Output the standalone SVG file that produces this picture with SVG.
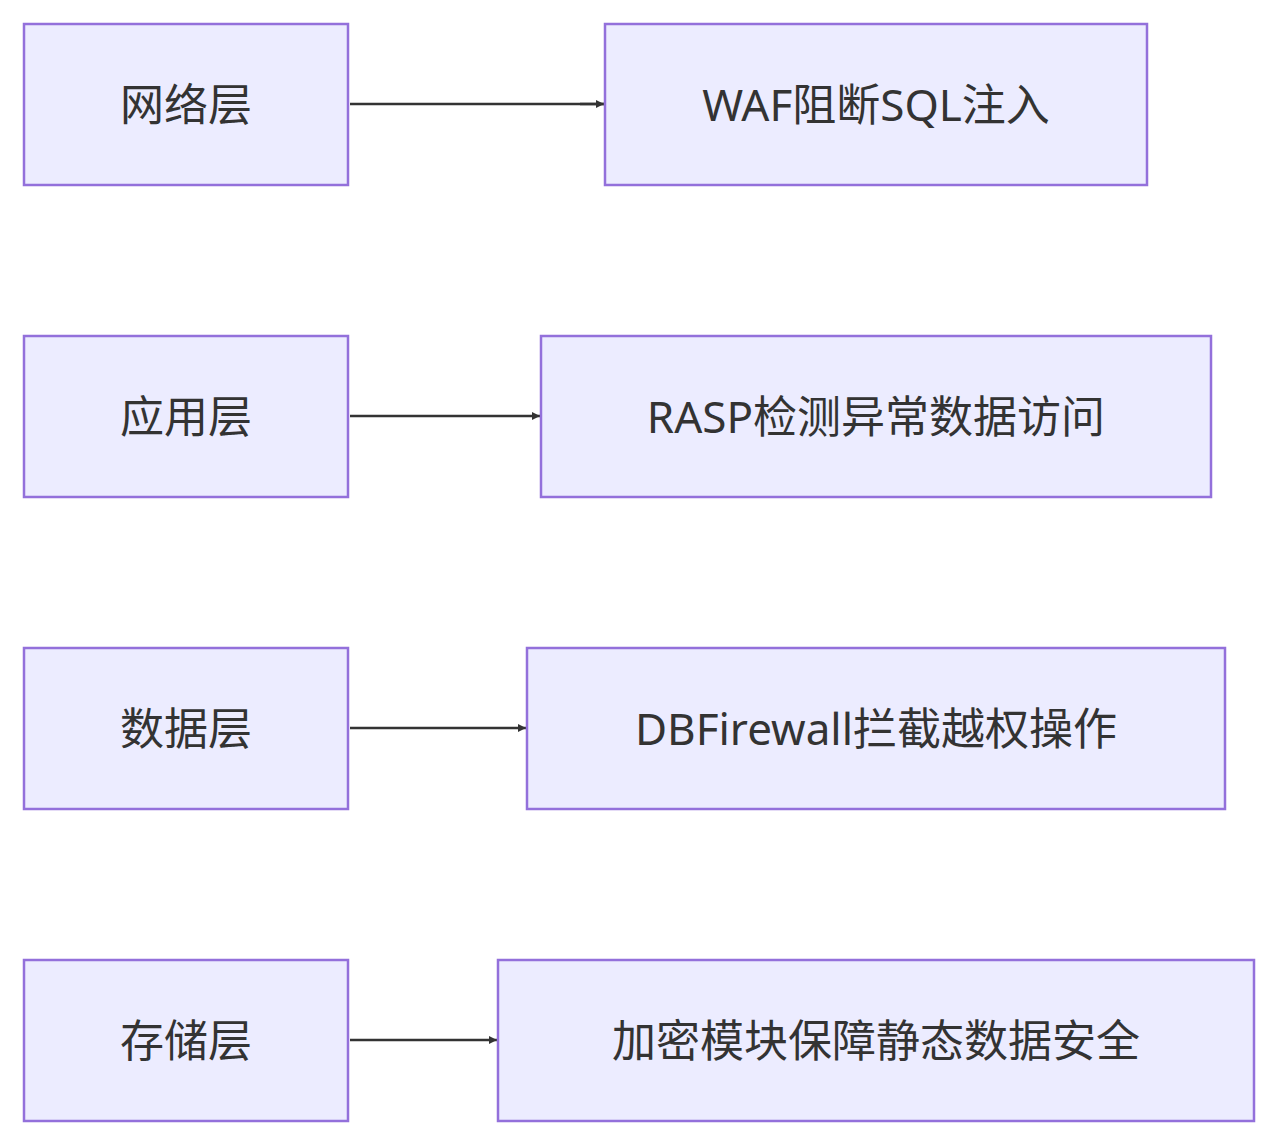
<svg xmlns="http://www.w3.org/2000/svg" width="1278" height="1146" viewBox="0 0 1278 1146">
<style>
.n rect{fill:#ECECFF;stroke:#9370DB;stroke-width:2.5}
.n text{font-family:"Noto Sans","Noto Sans CJK SC",sans-serif;font-size:44px;fill:#333;text-anchor:middle;dominant-baseline:central}
.e path{stroke:#333;stroke-width:2.5;fill:none;marker-end:url(#a)}
</style>
<defs><marker id="a" viewBox="0 0 10 10" refX="10" refY="5" markerWidth="8" markerHeight="8" markerUnits="userSpaceOnUse" orient="auto"><path d="M0,0L10,5L0,10z" fill="#333"/></marker></defs>
<rect width="1278" height="1146" fill="#fff"/>
<g class="e">
<path d="M350,104H604" style="marker-end:none"/><path d="M580,104H604"/>
<path d="M350,416H540"/>
<path d="M350,728H526"/>
<path d="M350,1040H497"/>
</g>
<g id="n1" class="n"><rect x="24" y="24" width="324" height="161"/><text x="186" y="104">网络层</text></g>
<g id="n2" class="n"><rect x="605" y="24" width="542" height="161"/><text x="876" y="104">WAF阻断SQL注入</text></g>
<g id="n3" class="n"><rect x="24" y="336" width="324" height="161"/><text x="186" y="416">应用层</text></g>
<g id="n4" class="n"><rect x="541" y="336" width="670" height="161"/><text x="876" y="416">RASP检测异常数据访问</text></g>
<g id="n5" class="n"><rect x="24" y="648" width="324" height="161"/><text x="186" y="728">数据层</text></g>
<g id="n6" class="n"><rect x="527" y="648" width="698" height="161"/><text x="876" y="728">DBFirewall拦截越权操作</text></g>
<g id="n7" class="n"><rect x="24" y="960" width="324" height="161"/><text x="186" y="1040">存储层</text></g>
<g id="n8" class="n"><rect x="498" y="960" width="756" height="161"/><text x="876" y="1040">加密模块保障静态数据安全</text></g>
</svg>
